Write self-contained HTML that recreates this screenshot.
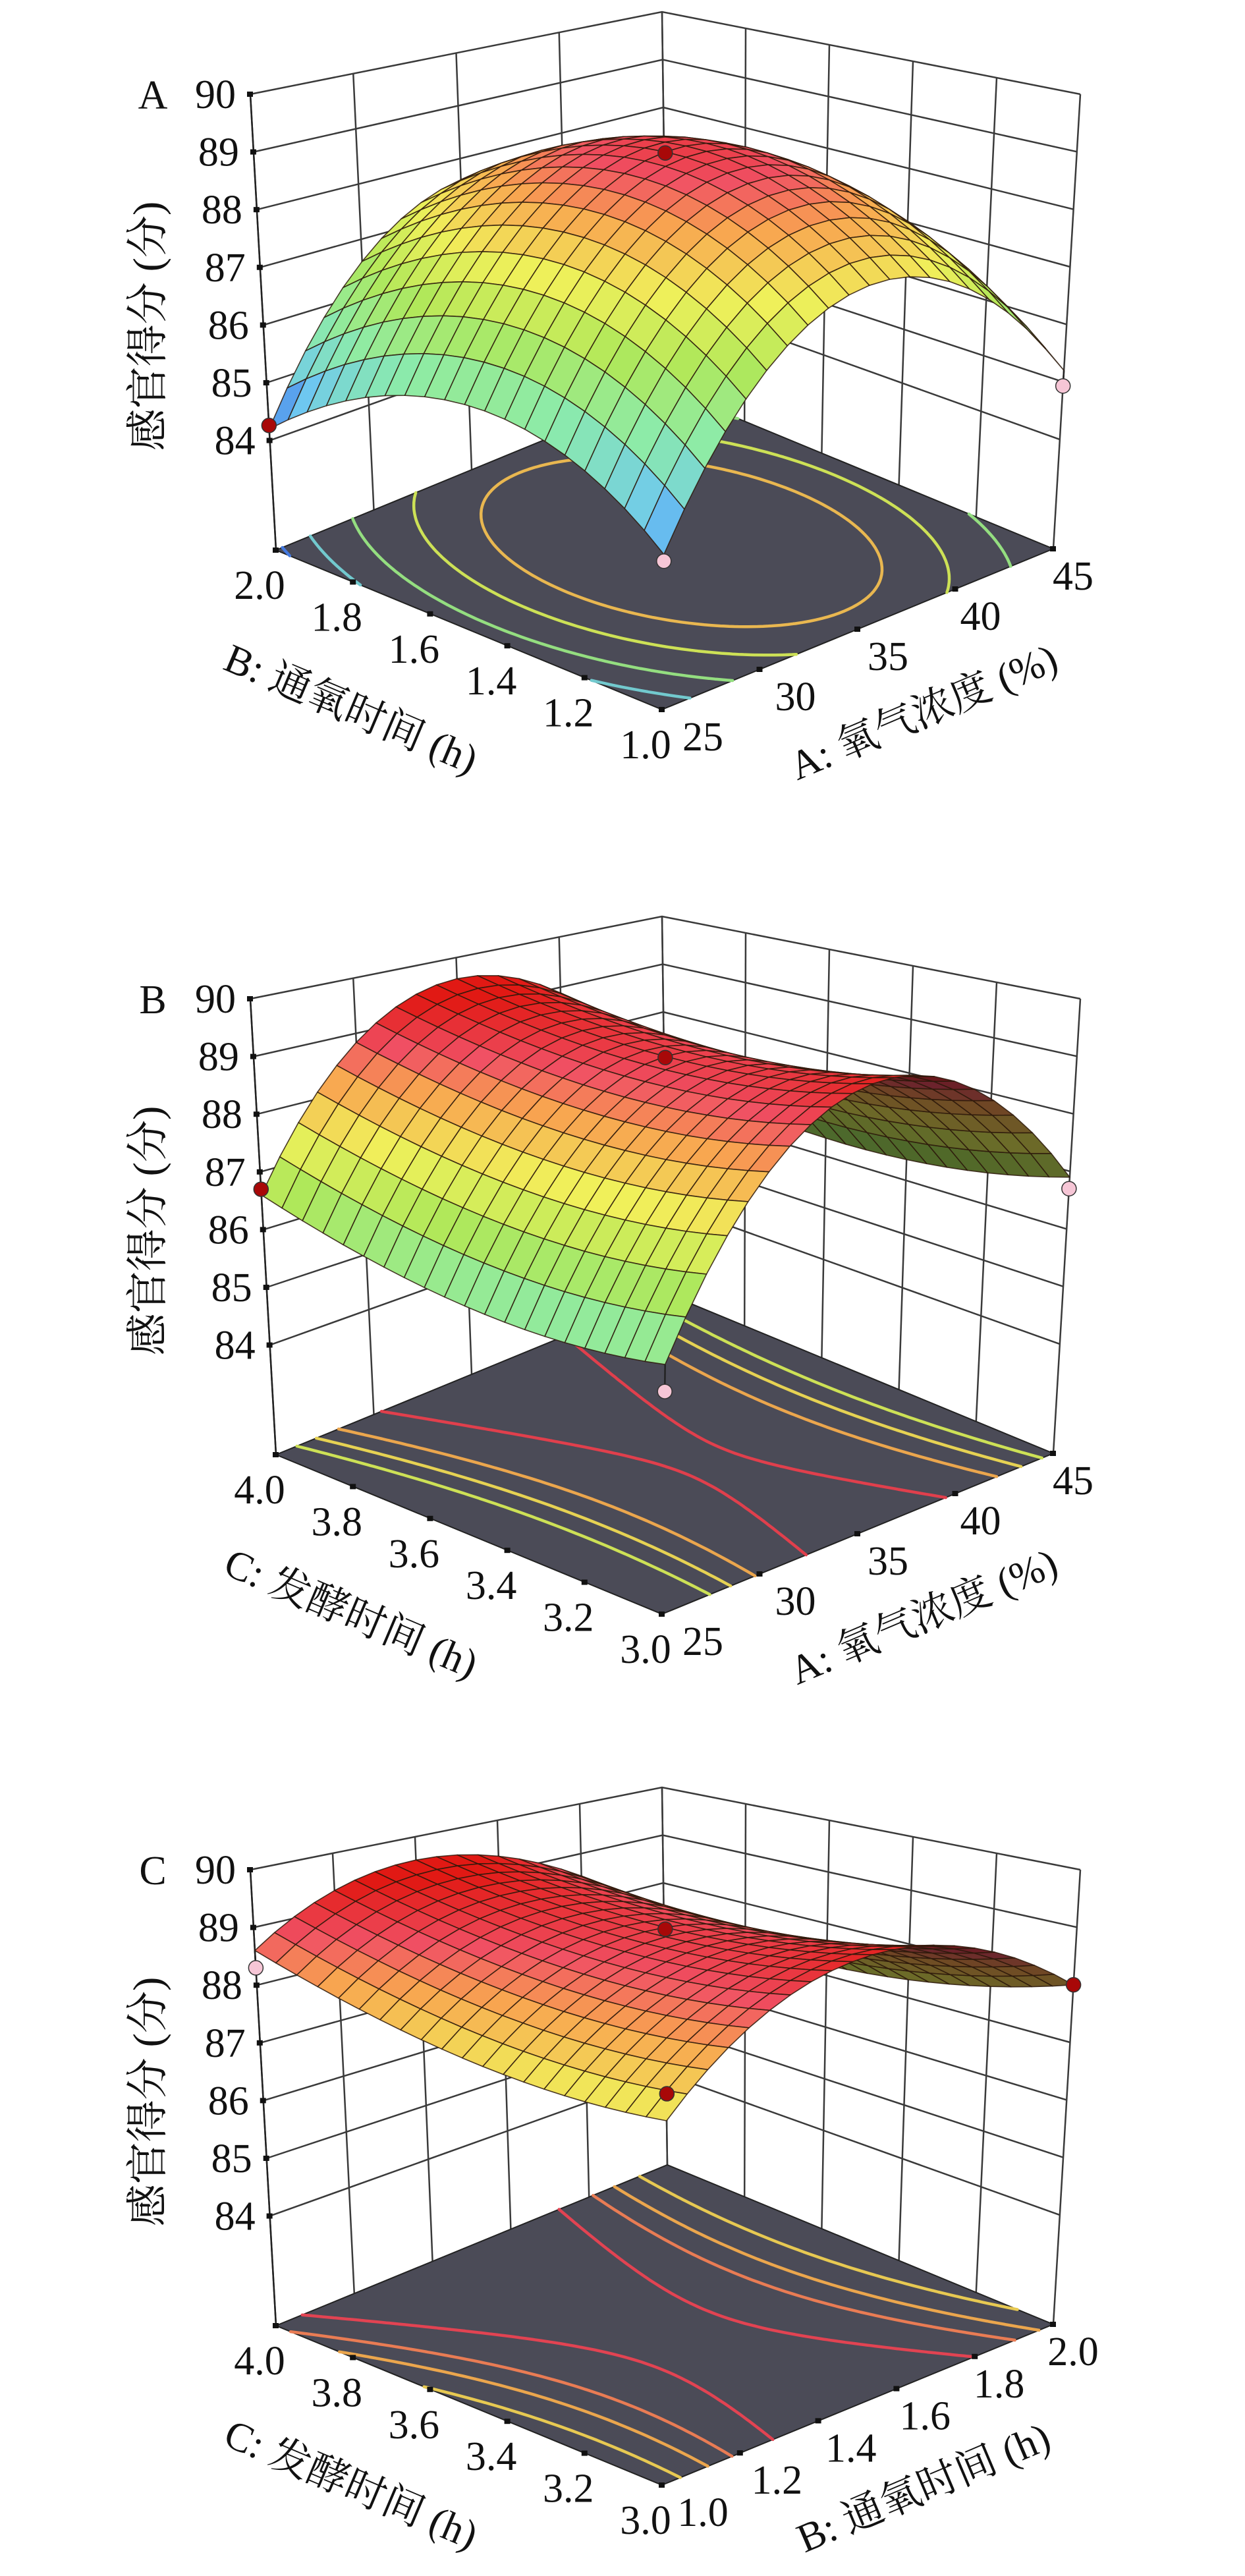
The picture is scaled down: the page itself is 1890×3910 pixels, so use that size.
<!DOCTYPE html>
<html><head><meta charset="utf-8">
<style>
html,body{margin:0;padding:0;background:#fff;}
svg{display:block;}
text{font-family:"Liberation Serif","Noto Serif CJK SC","Noto Sans CJK SC",serif;fill:#111;}
</style></head>
<body>
<svg id="fig" width="1890" height="3910" viewBox="0 0 1890 3910" xmlns="http://www.w3.org/2000/svg">
<rect x="0" y="0" width="1890" height="3910" fill="#fff"/>
</svg>
<script>
// ---- data ----
// quadratic model coefficients: [b0, b1(x1), b2(x2), b12, b11, b22]  (coded -1..1)
const coefA = [89.0, 0.5, 0.0, 0.1, -2.8, -1.4];
const coefB = [89.0, 0.3, 0.15, -0.25, -2.95, 0.45];
const coefC = [89.0, -0.2, 0.1, -0.45, -1.55, 0.4];
const zTicks = [84, 85, 86, 87, 88, 89, 90];
const aTicks = ["25", "30", "35", "40", "45"];
const bTicks = ["1.0", "1.2", "1.4", "1.6", "1.8", "2.0"];
const cTicks = ["3.0", "3.2", "3.4", "3.6", "3.8", "4.0"];
const contourA = [84.4, 85.2, 86.2, 87.2, 88.0];
const contourB = [87.2, 87.7, 88.2, 88.95];
const contourC = [87.8, 88.2, 88.5, 88.9];
// design points: [x1, x2, z, kind]  kind 1 = red, 0 = pink
const pointsA = [[-1, 1, 84.26, 1], [1, -1, 84.93, 0], [-1, -1, 84.3, 0], [0, 0, 88.98, 1]];
const pointsB = [[-1, 1, 86.7, 1], [1, -1, 86.7, 0], [-1, -1, 85.4, 0], [0, 0, 88.98, 1]];
const pointsC = [[-1, 1, 88.3, 0], [1, -1, 88.0, 1], [-1, -1, 87.9, 1], [0, 0, 88.97, 1]];

// ---- geometry ----
const NS = "http://www.w3.org/2000/svg";
const svg = document.getElementById("fig");
const ZF = 82.1, ZT = 90;
const F = [1005, 1077], R = [1599, 833], L = [419, 835];
const Ft = [1015, 268], Rt = [1640, 143], Lt = [380, 143];
function proj(x1, x2, z) {
  const u = (x1 + 1) / 2, v = (x2 + 1) / 2;
  const fx = F[0] + u * (R[0] - F[0]) + v * (L[0] - F[0]);
  const fy = F[1] + u * (R[1] - F[1]) + v * (L[1] - F[1]);
  const tx = Ft[0] + u * (Rt[0] - Ft[0]) + v * (Lt[0] - Ft[0]);
  const ty = Ft[1] + u * (Rt[1] - Ft[1]) + v * (Lt[1] - Ft[1]);
  const t = (z - ZF) / (ZT - ZF);
  return [fx + t * (tx - fx), fy + t * (ty - fy)];
}
function model(c, x1, x2) {
  return c[0] + c[1] * x1 + c[2] * x2 + c[3] * x1 * x2 + c[4] * x1 * x1 + c[5] * x2 * x2;
}
const stops = [[84.0, [40, 70, 230]], [84.9, [110, 200, 240]], [85.8, [140, 235, 170]], [86.7, [175, 232, 90]],
  [87.5, [240, 240, 90]], [88.3, [248, 165, 80]], [88.8, [240, 80, 100]], [89.4, [225, 25, 20]]];
function cmap(z) {
  if (z <= stops[0][0]) return stops[0][1];
  for (let i = 1; i < stops.length; i++) {
    if (z <= stops[i][0]) {
      const a = stops[i - 1], b = stops[i], t = (z - a[0]) / (b[0] - a[0]);
      return a[1].map((c, k) => c + t * (b[1][k] - c));
    }
  }
  return stops[stops.length - 1][1];
}
function rgb(c, f) { f = f || 1; return "rgb(" + c.map(v => Math.round(Math.min(255, v * f))).join(",") + ")"; }
function el(tag, attrs, parent) {
  const e = document.createElementNS(NS, tag);
  for (const k in attrs) e.setAttribute(k, attrs[k]);
  (parent || svg).appendChild(e);
  return e;
}
function pts(arr) { return arr.map(p => p[0].toFixed(1) + "," + p[1].toFixed(1)).join(" "); }

function panel(cfg) {
  const g = el("g", { transform: "translate(0," + cfg.dy + ")" });
  
  
  const nR = cfg.rightTicks.length, nL = cfg.leftTicks.length;
  // walls
  const walls = el("g", { stroke: "#3a3a3a", "stroke-width": 2.5, fill: "none" }, g);
  
  
  for (let i = 0; i < nR; i++) {
    const x1 = -1 + 2 * i / (nR - 1);
    const a = proj(x1, 1, ZF), b = proj(x1, 1, ZT);
    el("line", { x1: a[0], y1: a[1], x2: b[0], y2: b[1] }, walls);
  }
  for (let j = 0; j < nL; j++) {
    const x2 = -1 + 2 * j / (nL - 1);
    const a = proj(1, x2, ZF), b = proj(1, x2, ZT);
    el("line", { x1: a[0], y1: a[1], x2: b[0], y2: b[1] }, walls);
  }
  zTicks.forEach(z => {
    const a = proj(-1, 1, z), b = proj(1, 1, z), c = proj(1, -1, z);
    el("polyline", { points: pts([a, b, c]) }, walls);
  });
  // floor
  const floor = el("polygon", { points: pts([proj(-1, -1, ZF), proj(1, -1, ZF), proj(1, 1, ZF), proj(-1, 1, ZF)]), fill: "#4b4b57", stroke: "#222", "stroke-width": 2 }, g);
  
  
  // contours (marching squares)
  const N = 80;
  const cg = el("g", { fill: "none", "stroke-width": 4.5, "stroke-linecap": "round" }, g);
  
  
  cfg.levels.forEach(lev => {
    let d = "";
    for (let i = 0; i < N; i++) for (let j = 0; j < N; j++) {
      const xa = -1 + 2 * i / N, xb = -1 + 2 * (i + 1) / N, ya = -1 + 2 * j / N, yb = -1 + 2 * (j + 1) / N;
      const c = [[xa, ya], [xb, ya], [xb, yb], [xa, yb]];
      const v = c.map(p => model(cfg.coef, p[0], p[1]) - lev);
      const cr = [];
      for (let k = 0; k < 4; k++) {
        const k2 = (k + 1) % 4;
        if ((v[k] < 0) !== (v[k2] < 0)) {
          const t = v[k] / (v[k] - v[k2]);
          cr.push([c[k][0] + t * (c[k2][0] - c[k][0]), c[k][1] + t * (c[k2][1] - c[k][1])]);
        }
      }
      for (let k = 0; k + 1 < cr.length; k += 2) {
        const p = proj(cr[k][0], cr[k][1], ZF), q = proj(cr[k + 1][0], cr[k + 1][1], ZF);
        d += "M" + p[0].toFixed(1) + "," + p[1].toFixed(1) + "L" + q[0].toFixed(1) + "," + q[1].toFixed(1);
      }
    }
    const path = el("path", { d: d, stroke: rgb(cmap(lev), 0.95) }, cg);
    
    
  });
  // z axis
  const za = proj(-1, 1, ZF), zb = proj(-1, 1, ZT);
  const zax = el("line", { x1: za[0], y1: za[1], x2: zb[0], y2: zb[1], stroke: "#222", "stroke-width": 2.5 }, g);
  
  
  zTicks.forEach(z => {
    const p = proj(-1, 1, z);
    el("rect", { x: p[0] - 5, y: p[1] - 4, width: 9, height: 8, fill: "#111" }, g);
    const t = el("text", { x: p[0] - 22, y: p[1] + 21, "font-size": 62, "text-anchor": "end" }, g);
    t.textContent = String(z);
    
    
  });
  // surface
  const M = 20, quads = [];
  for (let i = 0; i < M; i++) for (let j = 0; j < M; j++) {
    const xa = -1 + 2 * i / M, xb = -1 + 2 * (i + 1) / M, ya = -1 + 2 * j / M, yb = -1 + 2 * (j + 1) / M;
    const c = [[xa, ya], [xb, ya], [xb, yb], [xa, yb]];
    const zs = c.map(p => model(cfg.coef, p[0], p[1]));
    const P = c.map((p, k) => proj(p[0], p[1], zs[k]));
    let area = 0;
    for (let k = 0; k < 4; k++) { const k2 = (k + 1) % 4; area += P[k][0] * P[k2][1] - P[k2][0] * P[k][1]; }
    quads.push({ P: P, z: (zs[0] + zs[1] + zs[2] + zs[3]) / 4, depth: (xa + xb + ya + yb), area: area });
  }
  let fa = 0;
  { const c = [[-1, -1], [1, -1], [1, 1], [-1, 1]].map(p => proj(p[0], p[1], ZF));
    for (let k = 0; k < 4; k++) { const k2 = (k + 1) % 4; fa += c[k][0] * c[k2][1] - c[k2][0] * c[k][1]; } }
  quads.sort((a, b) => b.depth - a.depth);
  const sg = el("g", { stroke: "rgba(45,25,10,0.85)", "stroke-width": 1.6, "stroke-linejoin": "round" }, g);
  
  
  quads.forEach(q => {
    const under = (q.area * fa) < 0;
    const col = cmap(q.z);
    const poly = el("polygon", { points: pts(q.P), fill: under ? rgb(col, 0.45) : rgb(col, 1) }, sg);
    
    
  });
  // design points
  cfg.points.forEach(p => {
    const s = model(cfg.coef, p[0], p[1]);
    const a = proj(p[0], p[1], p[2]);
    if (p[2] < s - 0.2) {
      const b = proj(p[0], p[1], s);
      el("line", { x1: a[0], y1: a[1], x2: b[0], y2: b[1], stroke: "#222", "stroke-width": 2.5 }, g);
    }
    const c = el("circle", { cx: a[0], cy: a[1], r: 11, fill: p[3] ? "#a80808" : "#f6c6d6", stroke: "#333", "stroke-width": 1.5 }, g);
    
    
  });
  // floor edge ticks + labels
  cfg.leftTicks.forEach((lab, j) => {
    const x2 = -1 + 2 * j / (nL - 1);
    const p = proj(-1, x2, ZF);
    el("rect", { x: p[0] - 5, y: p[1] - 4, width: 9, height: 8, fill: "#111" }, g);
    const t = el("text", { x: p[0] - 25, y: p[1] + 74, "font-size": 62, "text-anchor": "middle" }, g);
    t.textContent = lab;
    
    
  });
  cfg.rightTicks.forEach((lab, i) => {
    const u = i / (nR - 1);
    const x1 = -1 + 2 * u;
    const p = proj(x1, -1, ZF);
    el("rect", { x: p[0] - 5, y: p[1] - 4, width: 9, height: 8, fill: "#111" }, g);
    const t = el("text", { x: p[0] + 62 - 32 * u, y: p[1] + 62, "font-size": 62, "text-anchor": "middle" }, g);
    t.textContent = lab;
    
    
  });
  // titles
  const lt = el("text", { x: 0, y: 0, "font-size": 62, "text-anchor": "middle", transform: "translate(525,1095) rotate(23)" }, g);
  lt.textContent = cfg.leftTitle;
  
  
  const rtt = el("text", { x: 0, y: 0, "font-size": 62, "text-anchor": "middle", transform: "translate(1410,1100) rotate(-23)" }, g);
  rtt.textContent = cfg.rightTitle;
  
  
  const yt = el("text", { x: 0, y: 0, "font-size": 64, "text-anchor": "middle", transform: "translate(246,495) rotate(-90)" }, g);
  yt.textContent = "感官得分 (分)";
  
  
  const pl = el("text", { x: 232, y: 165, "font-size": 62, "text-anchor": "middle" }, g);
  pl.textContent = cfg.letter;
  
  
}
panel({ name: "panel-a", dy: 0, coef: coefA, levels: contourA, points: pointsA, letter: "A",
  leftTicks: bTicks, rightTicks: aTicks, leftTitle: "B: 通氧时间 (h)", rightTitle: "A: 氧气浓度 (%)" });
panel({ name: "panel-b", dy: 1373, coef: coefB, levels: contourB, points: pointsB, letter: "B",
  leftTicks: cTicks, rightTicks: aTicks, leftTitle: "C: 发酵时间 (h)", rightTitle: "A: 氧气浓度 (%)" });
panel({ name: "panel-c", dy: 2695, coef: coefC, levels: contourC, points: pointsC, letter: "C",
  leftTicks: cTicks, rightTicks: bTicks, leftTitle: "C: 发酵时间 (h)", rightTitle: "B: 通氧时间 (h)" });
</script>
</body></html>
